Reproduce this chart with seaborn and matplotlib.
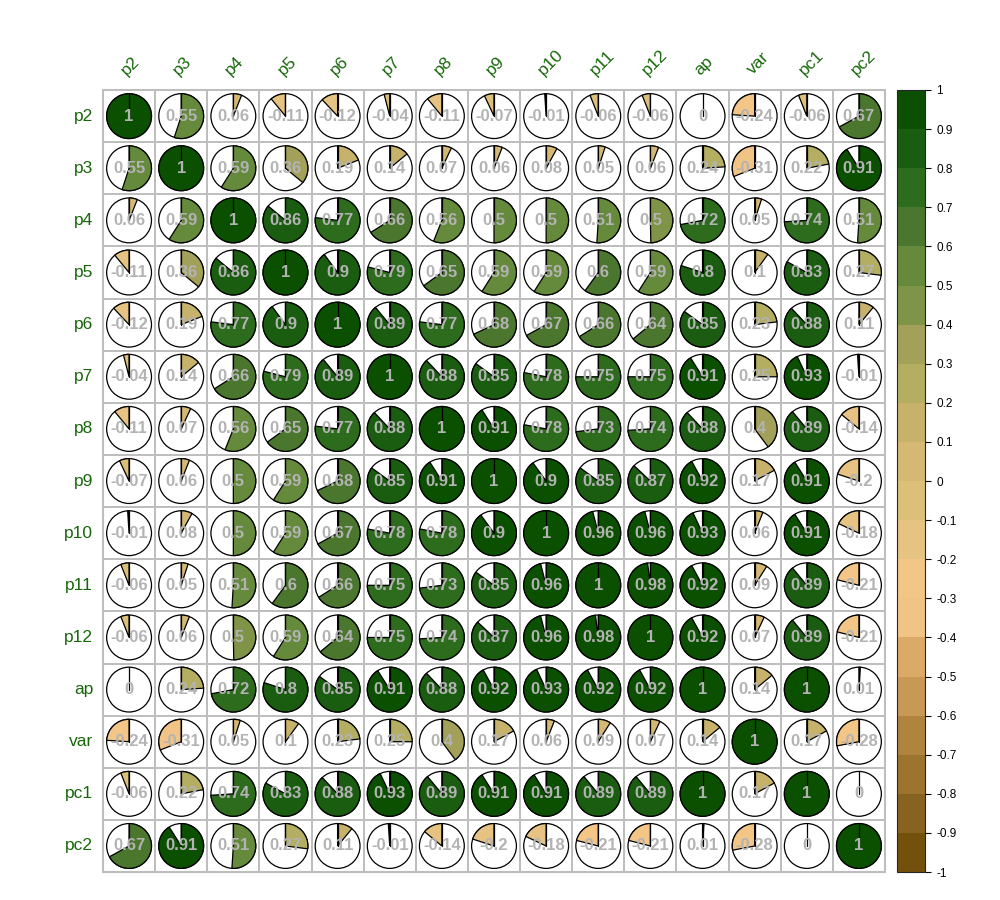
import numpy as np
import pandas as pd
import matplotlib
matplotlib.use("Agg")
import matplotlib.pyplot as plt
import seaborn as sns
from matplotlib.colors import ListedColormap, BoundaryNorm
from matplotlib.patches import Wedge, Circle, Rectangle
from matplotlib.cm import ScalarMappable

# variable names
labels = ["p2", "p3", "p4", "p5", "p6", "p7", "p8", "p9", "p10", "p11", "p12",
          "ap", "var", "pc1", "pc2"]

# correlation rows
p2 = [1, 0.55, 0.06, -0.11, -0.12, -0.04, -0.11, -0.07, -0.01, -0.06, -0.06, 0, -0.24, -0.06, 0.67]
p3 = [0.55, 1, 0.59, 0.36, 0.19, 0.14, 0.07, 0.06, 0.08, 0.05, 0.06, 0.24, -0.31, 0.22, 0.91]
p4 = [0.06, 0.59, 1, 0.86, 0.77, 0.66, 0.56, 0.5, 0.5, 0.51, 0.497, 0.72, 0.05, 0.74, 0.51]
p5 = [-0.11, 0.36, 0.86, 1, 0.899, 0.79, 0.65, 0.59, 0.59, 0.6, 0.59, 0.8, 0.1, 0.83, 0.27]
p6 = [-0.12, 0.19, 0.77, 0.899, 1, 0.89, 0.77, 0.68, 0.67, 0.66, 0.64, 0.85, 0.23, 0.88, 0.11]
p7 = [-0.04, 0.14, 0.66, 0.79, 0.89, 1, 0.88, 0.85, 0.78, 0.75, 0.75, 0.91, 0.25, 0.93, -0.01]
p8 = [-0.11, 0.07, 0.56, 0.65, 0.77, 0.88, 1, 0.91, 0.78, 0.73, 0.74, 0.88, 0.398, 0.89, -0.14]
p9 = [-0.07, 0.06, 0.5, 0.59, 0.68, 0.85, 0.91, 1, 0.9, 0.85, 0.87, 0.92, 0.17, 0.91, -0.2]
p10 = [-0.01, 0.08, 0.5, 0.59, 0.67, 0.78, 0.78, 0.9, 1, 0.96, 0.96, 0.93, 0.06, 0.91, -0.18]
p11 = [-0.06, 0.05, 0.51, 0.6, 0.66, 0.75, 0.73, 0.85, 0.96, 1, 0.98, 0.92, 0.09, 0.89, -0.21]
p12 = [-0.06, 0.06, 0.497, 0.59, 0.64, 0.75, 0.74, 0.87, 0.96, 0.98, 1, 0.92, 0.07, 0.89, -0.21]
ap = [0, 0.24, 0.72, 0.8, 0.85, 0.91, 0.88, 0.92, 0.93, 0.92, 0.92, 1, 0.14, 1, 0.01]
var = [-0.24, -0.31, 0.05, 0.1, 0.23, 0.25, 0.398, 0.17, 0.06, 0.09, 0.07, 0.14, 1, 0.17, -0.28]
pc1 = [-0.06, 0.22, 0.74, 0.83, 0.88, 0.93, 0.89, 0.91, 0.91, 0.89, 0.89, 1, 0.17, 1, 0]
pc2 = [0.67, 0.91, 0.51, 0.27, 0.11, -0.01, -0.14, -0.2, -0.18, -0.21, -0.21, 0.01, -0.28, 0, 1]

# 20 colour bins from -1 to 1
bin_colors = ["#74500D", "#876220", "#9C742F", "#B0843E", "#C79955",
              "#DCAA68", "#F2C386", "#F3C687", "#E6C383", "#DCC07A",
              "#D5B874", "#C6B26A", "#B4AE62", "#A3A159", "#7F9447",
              "#668A3C", "#4A762D", "#2D6B1D", "#1A5C10", "#0B5000"]

corr = pd.DataFrame([p2, p3, p4, p5, p6, p7, p8, p9, p10, p11, p12, ap, var, pc1, pc2],
                    index=labels, columns=labels)

cmap = ListedColormap(bin_colors)
bounds = np.round(np.linspace(-1, 1, 21), 1)
norm = BoundaryNorm(bounds, cmap.N)

label_green = "#17670A"
text_grey = "#B3B3B3"

sns.set_style("white")
plt.rcParams['font.family'] = ['Liberation Sans', 'DejaVu Sans']

fig = plt.figure(figsize=(10, 9), dpi=100)
ax = fig.add_axes([0.103, 0.031, 0.782, 0.869])
cax = fig.add_axes([0.897, 0.031, 0.028, 0.869])

# white grid of cells
sns.heatmap(corr, cmap=ListedColormap(["white"]), cbar=False, linewidths=1.3,
            linecolor="#BEBEBE", square=True, ax=ax)
ax.add_patch(Rectangle((0, 0), len(labels), len(labels), fill=False,
                       ec="#BEBEBE", lw=1.5, clip_on=False, zorder=3))

# pies
r = 0.43
n = len(labels)
for i in range(n):
    for j in range(n):
        v = corr.iloc[i, j]
        cx, cy = j + 0.5, i + 0.5
        ax.add_patch(Circle((cx, cy), r, fc="white", ec="black", lw=0.9, zorder=4))
        if v != 0:
            if v > 0:
                t1, t2 = 270, 270 + 360 * v
            else:
                t1, t2 = 270 + 360 * v, 270
            ax.add_patch(Wedge((cx, cy), r, t1, t2, fc=cmap(norm(v)),
                               ec="black", lw=0.9, zorder=5))
        ax.plot([cx, cx], [cy, cy - r], color="black", lw=0.9, zorder=6)
        ax.text(cx, cy, "%g" % round(v, 2), ha="center", va="center",
                color=text_grey, fontsize=12, fontweight="bold", zorder=7)

# axis labels
ax.xaxis.tick_top()
ax.tick_params(axis="both", length=0)
ax.tick_params(axis="x", pad=9)
ax.tick_params(axis="y", pad=7)
ax.set_xticklabels(labels, rotation=45, ha="left", rotation_mode="anchor",
                   color=label_green, fontsize=12.5)
ax.set_yticklabels(labels, rotation=0, color=label_green, fontsize=12.5)
ax.set_xlabel("")
ax.set_ylabel("")

# colour legend
cb = fig.colorbar(ScalarMappable(norm=norm, cmap=cmap), cax=cax, ticks=bounds)
cb.ax.set_yticklabels(["%g" % b for b in bounds])
cb.ax.tick_params(labelsize=8.5, length=4, width=0.8, color="black",
                  labelcolor="black", pad=4)
cb.outline.set_linewidth(0.8)

plt.savefig("out.png", dpi=100)
plt.close()
